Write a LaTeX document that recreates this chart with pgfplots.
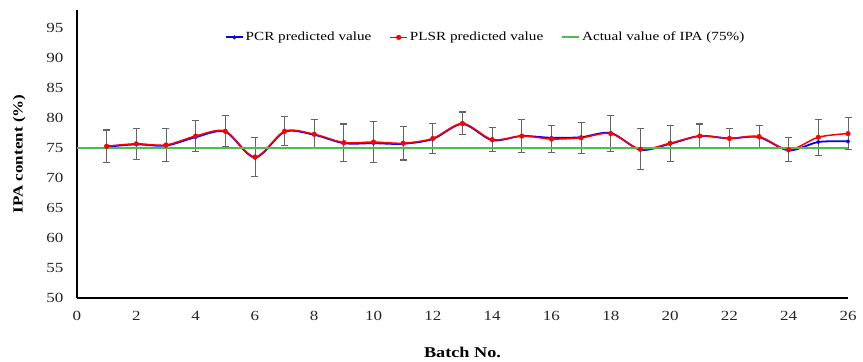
\documentclass[border=0pt]{standalone}
\usepackage{pgfplots}
\pgfplotsset{compat=1.18}
\usepackage{fontspec}
\setmainfont[FakeStretch=1.22]{Liberation Serif}
\definecolor{pcrblue}{RGB}{0,0,255}
\definecolor{plsrred}{RGB}{255,0,0}
\definecolor{actgreen}{RGB}{76,190,76}
\definecolor{errgray}{RGB}{100,100,100}
\begin{document}
\begin{tikzpicture}
\path[use as bounding box] (-77bp,-64bp) rectangle (786bp,298bp);
\begin{axis}[
  at={(0,0)}, anchor=south west,
  scale only axis, width=771bp, height=288bp,
  xmin=0, xmax=26, ymin=50, ymax=98,
  xtick={0,2,...,26}, ytick={50,55,...,95},
  axis x line=bottom, axis y line=left,
  axis line style={-, black, line width=1.6pt},
  major tick length=0pt,
  tick label style={font=\fontsize{14}{16}\selectfont, text=black!85},
  /pgf/number format/assume math mode=true,
  xticklabel style={yshift=-10bp},
  yticklabel style={xshift=-10bp},
  xlabel={\textbf{Batch No.}},
  ylabel={\textbf{IPA content (\%)}},
  label style={font=\fontsize{15}{17}\selectfont},
  xlabel style={at={(axis description cs:0.5,-0.1875)}, anchor=center},
  ylabel style={at={(axis description cs:-0.075,0.5)}, anchor=center, font=\fontsize{14}{16}\selectfont},
  legend style={at={(axis description cs:0.53,0.905)}, anchor=center, draw=none, fill=none,
    font=\fontsize{12.5}{14}\selectfont, legend columns=3,
    /tikz/every even column/.append style={column sep=16bp}},
  legend cell align=left,
  clip=false,
]
\addplot[pcrblue, line width=1.8pt, smooth, tension=0.5, mark=*, mark size=1.8pt,
  mark options={fill=pcrblue, draw=pcrblue, line width=0.5pt}]
 table[row sep=\\] {
x y\\
1 75.2\\ 2 75.6\\ 3 75.4\\ 4 76.8\\ 5 77.7\\ 6 73.4\\ 7 77.7\\ 8 77.2\\ 9 75.8\\ 10 75.8\\
11 75.7\\ 12 76.5\\ 13 79.0\\ 14 76.3\\ 15 77.0\\ 16 76.7\\ 17 76.8\\ 18 77.5\\ 19 74.7\\ 20 75.7\\
21 77.0\\ 22 76.6\\ 23 76.8\\ 24 74.6\\ 25 76.0\\ 26 76.1\\
};
\addlegendentry{PCR predicted value}
\addplot[plsrred, line width=1.5pt, smooth, tension=0.5, mark=*, mark size=2.3pt,
  mark options={fill=plsrred, draw=plsrred, line width=0.5pt},
  error bars/.cd, y dir=both, y explicit,
  error bar style={errgray, line width=0.8pt},
  error mark options={rotate=90, mark size=3.5bp, errgray, line width=1.1pt}]
 table[row sep=\\, y error=e] {
x y e\\
1 75.3 2.7\\ 2 75.7 2.6\\ 3 75.5 2.7\\ 4 77.0 2.6\\ 5 77.8 2.6\\ 6 73.5 3.3\\ 7 77.8 2.4\\ 8 77.3 2.45\\ 9 75.9 3.1\\ 10 76.0 3.4\\
11 75.8 2.8\\ 12 76.6 2.5\\ 13 79.1 1.9\\ 14 76.4 2.0\\ 15 77.0 2.7\\ 16 76.5 2.3\\ 17 76.7 2.6\\ 18 77.4 3.0\\ 19 74.8 3.4\\ 20 75.8 3.0\\
21 77.0 2.0\\ 22 76.6 1.7\\ 23 76.9 1.8\\ 24 74.7 2.0\\ 25 76.8 3.0\\ 26 77.4 2.7\\
};
\addlegendentry{PLSR predicted value}
\addplot[actgreen, line width=1.8pt, mark=none] table[row sep=\\] {
x y\\ 0 75\\ 26 75\\
};
\addlegendentry{Actual value of IPA (75\%)}
\end{axis}
\end{tikzpicture}
\end{document}
